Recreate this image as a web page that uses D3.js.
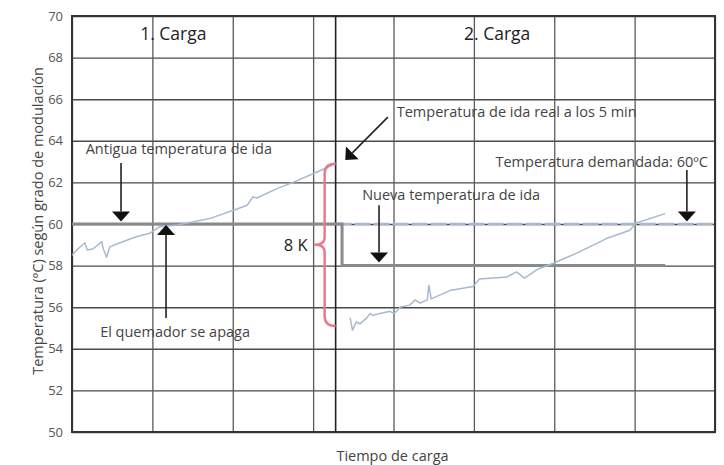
<!DOCTYPE html>
<html>
<head>
<meta charset="utf-8">
<script src="https://cdn.jsdelivr.net/npm/d3@7"></script>
<style>
  body { margin: 0; background: #fff; }
  text { font-family: "Open Sans", sans-serif; }
</style>
</head>
<body>
<div id="chart-root"></div>
<script>
// ---- data ----
var yTicks = [50, 52, 54, 56, 58, 60, 62, 64, 66, 68, 70];
var xGrid = [0, 1, 2, 3, 4, 5, 6, 7, 8];
var loadSplit = 3.28;   // change from 1. Carga to 2. Carga

// measured flow temperature, first load
var firstLoad = [
  [0, 58.5], [0.06, 58.75], [0.16, 59.1], [0.19, 58.75], [0.26, 58.8], [0.37, 59.15],
  [0.39, 58.8], [0.43, 58.4], [0.47, 58.9], [0.63, 59.15], [0.81, 59.4], [0.97, 59.56],
  [1.09, 59.87], [1.31, 59.95], [1.5, 60.1], [1.72, 60.27], [2.0, 60.65], [2.18, 60.9],
  [2.25, 61.3], [2.3, 61.25], [2.55, 61.7], [2.75, 62.0], [3.05, 62.5], [3.25, 62.85]
];
// measured flow temperature, second load
var secondLoad = [
  [3.46, 55.5], [3.49, 54.9], [3.54, 55.3], [3.58, 55.2], [3.67, 55.5], [3.71, 55.7],
  [3.74, 55.6], [3.83, 55.7], [3.96, 55.8], [4.0, 55.7], [4.04, 55.8], [4.08, 56.0],
  [4.2, 56.1], [4.27, 56.35], [4.33, 56.2], [4.42, 56.35], [4.44, 57.05], [4.47, 56.4],
  [4.7, 56.8], [4.99, 57.0], [5.07, 57.35], [5.41, 57.45], [5.53, 57.7], [5.63, 57.4],
  [5.78, 57.8], [5.98, 58.1], [6.28, 58.6], [6.65, 59.3], [6.94, 59.7], [7.02, 60.05],
  [7.38, 60.5]
];
// flow set point (old 60, new 58)
var setPoint = [[0, 60], [3.36, 60], [3.36, 58], [7.38, 58]];
// demanded temperature
var demanded = [[3.28, 60], [8, 60]];
// 8 K bracket: top, middle, bottom
var bracket = [62.9, 59.0, 55.1];

var titles = [
  { text: "1. Carga", u: 1.26, t: 68.85 },
  { text: "2. Carga", u: 5.29, t: 68.85 }
];
var notes = [
  { text: "Antigua temperatura de ida", u: 0.17, t: 63.37, anchor: "start" },
  { text: "El quemador se apaga", u: 0.35, t: 54.57, anchor: "start" },
  { text: "Temperatura de ida real a los 5 min", u: 4.04, t: 65.14, anchor: "start" },
  { text: "Temperatura demandada: 60ºC", u: 7.91, t: 62.74, anchor: "end" },
  { text: "Nueva temperatura de ida", u: 3.61, t: 61.15, anchor: "start" }
];
// arrows: from [u,t] to tip [u,t]
var arrows = [
  [[0.61, 62.93], [0.61, 60.12]],
  [[1.17, 55.48], [1.17, 59.95]],
  [[3.93, 65.14], [3.40, 63.08]],
  [[7.65, 62.6], [7.65, 60.12]],
  [[3.82, 60.9], [3.82, 58.15]]
];

// ---- chart ----
var margin = { top: 16, right: 9, bottom: 33, left: 72 },
    width = 724 - margin.left - margin.right,
    height = 465 - margin.top - margin.bottom;

var svg = d3.select("#chart-root")
    .append("svg")
    .attr("width", 724)
    .attr("height", 465)
    .append("g")
    .attr("transform", "translate(" + margin.left + "," + margin.top + ")");

var x = d3.scaleLinear().domain([0, 8]).range([0, width]);
var y = d3.scaleLinear().domain([50, 70]).range([height, 0]);

// grid
svg.append("g")
    .attr("class", "grid")
    .call(d3.axisLeft(y).tickValues(yTicks).tickSize(-width).tickFormat(""))
    .call(g => g.select(".domain").remove())
    .selectAll("line").attr("stroke", "#4a4a4a").attr("stroke-width", 1.4);

svg.append("g")
    .attr("class", "grid")
    .attr("transform", "translate(0," + height + ")")
    .call(d3.axisBottom(x).tickValues(xGrid).tickSize(-height).tickFormat(""))
    .call(g => g.select(".domain").remove())
    .selectAll("line").attr("stroke", "#5a5a5a").attr("stroke-width", 1.3);

// y labels
svg.append("g")
    .call(d3.axisLeft(y).tickValues(yTicks).tickSize(0).tickPadding(9))
    .call(g => g.select(".domain").remove())
    .selectAll("text")
    .style("font-family", "'Open Sans', sans-serif")
    .style("font-size", "13px")
    .attr("fill", "#555");

// frame
svg.append("rect")
    .attr("width", width).attr("height", height)
    .attr("fill", "none").attr("stroke", "#333").attr("stroke-width", 2);

// load split line
svg.append("line")
    .attr("x1", x(loadSplit)).attr("x2", x(loadSplit))
    .attr("y1", 0).attr("y2", height)
    .attr("stroke", "#222").attr("stroke-width", 1.6);

var line = d3.line().x(d => x(d[0])).y(d => y(d[1]));

svg.append("path")
    .attr("d", line(demanded))
    .attr("fill", "none").attr("stroke", "#a9b9cd").attr("stroke-width", 2.5)
    .attr("stroke-dasharray", "16,3");

svg.append("path")
    .attr("d", line(setPoint))
    .attr("fill", "none").attr("stroke", "#8a8a8e").attr("stroke-width", 3);

[firstLoad, secondLoad].forEach(function (s) {
  svg.append("path")
      .attr("d", line(s))
      .attr("fill", "none").attr("stroke", "#a8b9ce").attr("stroke-width", 1.5)
      .attr("stroke-linejoin", "round");
});

// 8 K bracket
var bx = x(loadSplit), bv = bx - 11, bt = y(bracket[0]), bm = y(bracket[1]), bb = y(bracket[2]);
var bp = d3.path();
bp.moveTo(bx, bt);
bp.quadraticCurveTo(bv, bt, bv, bt + 10);
bp.lineTo(bv, bm - 7);
bp.quadraticCurveTo(bv, bm, bv - 10, bm);
bp.quadraticCurveTo(bv, bm, bv, bm + 7);
bp.lineTo(bv, bb - 10);
bp.quadraticCurveTo(bv, bb, bx, bb);
svg.append("path")
    .attr("d", bp.toString())
    .attr("fill", "none").attr("stroke", "#ea7a8b").attr("stroke-width", 2.5);

svg.append("text")
    .attr("x", bv - 17).attr("y", bm + 6)
    .attr("text-anchor", "end")
    .style("font-size", "16.5px")
    .attr("fill", "#222")
    .text("8 K");

// titles
svg.selectAll(".title")
    .data(titles)
    .enter().append("text")
    .attr("class", "title")
    .attr("x", d => x(d.u)).attr("y", d => y(d.t))
    .attr("text-anchor", "middle")
    .style("font-size", "17.5px")
    .attr("fill", "#222")
    .text(d => d.text);

// annotations
svg.selectAll(".note")
    .data(notes)
    .enter().append("text")
    .attr("class", "note")
    .attr("x", d => x(d.u)).attr("y", d => y(d.t))
    .attr("text-anchor", d => d.anchor)
    .style("font-size", "14.5px")
    .attr("fill", "#444")
    .text(d => d.text);

arrows.forEach(function (a) {
  var x0 = x(a[0][0]), y0 = y(a[0][1]), x1 = x(a[1][0]), y1 = y(a[1][1]);
  var ang = Math.atan2(y1 - y0, x1 - x0);
  var len = 10, hw = 9;
  var bxh = x1 - len * Math.cos(ang), byh = y1 - len * Math.sin(ang);
  svg.append("line")
      .attr("x1", x0).attr("y1", y0).attr("x2", bxh).attr("y2", byh)
      .attr("stroke", "#222").attr("stroke-width", 1.6);
  var px = -Math.sin(ang) * hw, py = Math.cos(ang) * hw;
  svg.append("path")
      .attr("d", "M" + x1 + "," + y1 + "L" + (bxh + px) + "," + (byh + py) +
                 "L" + (bxh - px) + "," + (byh - py) + "Z")
      .attr("fill", "#111");
});

// axis titles
svg.append("text")
    .attr("x", x(4) - 1).attr("y", height + 29)
    .attr("text-anchor", "middle")
    .style("font-size", "14.5px")
    .attr("fill", "#444")
    .text("Tiempo de carga");

svg.append("text")
    .attr("transform", "rotate(-90)")
    .attr("x", -(y(60) - 3)).attr("y", -29)
    .attr("text-anchor", "middle")
    .style("font-size", "14.5px")
    .attr("fill", "#444")
    .text("Temperatura (ºC) según grado de modulación");
</script>
</body>
</html>
